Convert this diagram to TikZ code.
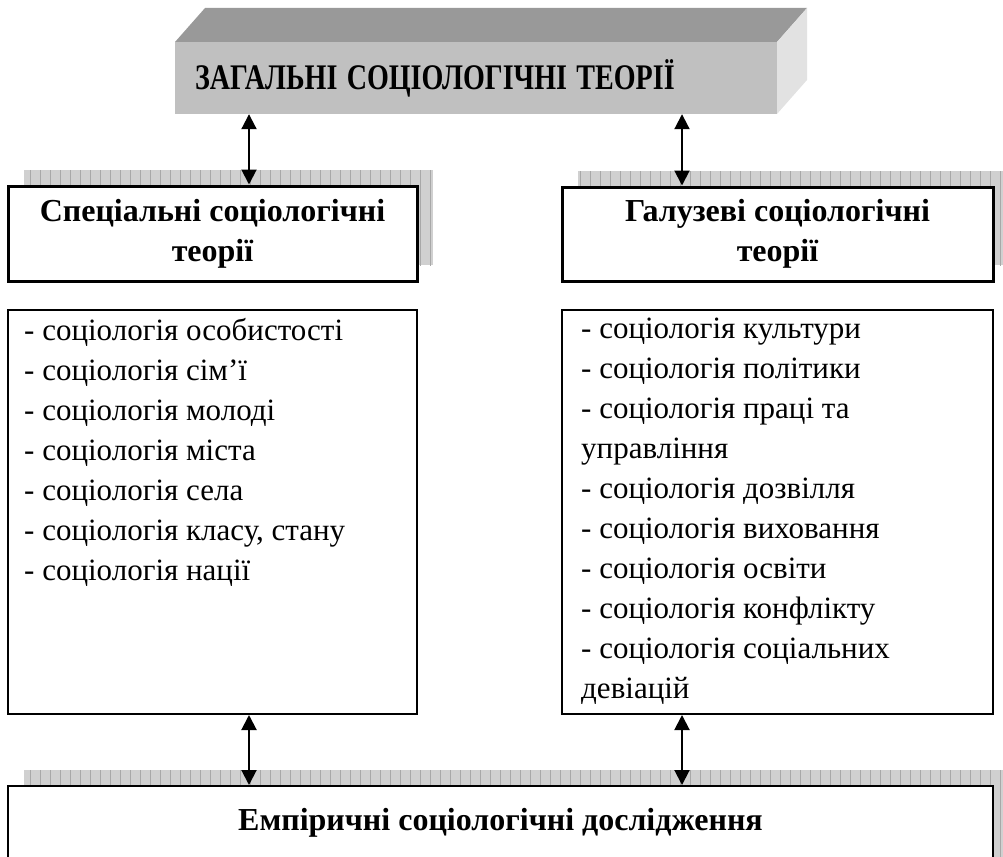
\documentclass[tikz,border=0pt]{standalone}
\usepackage{fontspec}
\setmainfont{Liberation Serif}
\usetikzlibrary{arrows.meta}

\definecolor{topface}{HTML}{999999}
\definecolor{frontface}{HTML}{C0C0C0}
\definecolor{sideface}{HTML}{E2E2E2}
\definecolor{shadowbg}{HTML}{D0D0D0}
\definecolor{shadowline}{HTML}{A8A8A8}

\begin{document}
\begin{tikzpicture}[x=1pt, y=-1pt,
  hdrbox/.style={draw, line width=3pt, fill=white, align=center, inner sep=0pt,
    font=\bfseries\fontsize{32}{40}\selectfont},
  listbox/.style={draw, line width=2pt, fill=white, inner sep=0pt},
  listtext/.style={anchor=north west, inner sep=0pt, align=left,
    font=\fontsize{31}{40}\selectfont},
  biarrow/.style={line width=2pt,
    {Triangle[width=15pt,length=15pt]}-{Triangle[width=15pt,length=15pt]}}]
\clip (0,0) rectangle (1003,856);

% shadows
\foreach \xa/\ya/\xb/\yb in {24/170/433/265, 578/171/1012/265, 24/770/1012/880} {
  \begin{scope}
    \clip (\xa,\ya) rectangle (\xb,\yb);
    \fill[shadowbg] (\xa,\ya) rectangle (\xb,\yb);
    \draw[shadowline, line width=0.5pt, step=10] (0,160) grid (1020,880);
  \end{scope}
}

% top block
\fill[topface] (175,42) -- (205,8) -- (807,8) -- (777,42) -- cycle;
\fill[sideface] (777,42) -- (807,8) -- (807,80) -- (777,114) -- cycle;
\node[fill=frontface, minimum width=602pt, minimum height=72pt, text width=562pt,
  inner xsep=20pt, align=left, font=\bfseries\fontsize{36}{40}\selectfont]
  (gen) at (476,78) {\scalebox{0.78}[1]{ЗАГАЛЬНІ СОЦІОЛОГІЧНІ ТЕОРІЇ}};

% headers
\node[hdrbox, minimum width=409pt, minimum height=95pt] (spec) at (212.5,233.5)
  {Спеціальні соціологічні\\теорії};
\node[hdrbox, minimum width=431pt, minimum height=94pt] (galuz) at (777.5,234)
  {Галузеві соціологічні\\теорії};

% lists
\node[listbox, minimum width=409pt, minimum height=404pt] (speclist) at (212.5,512) {};
\node[listbox, minimum width=431pt, minimum height=404pt] (galuzlist) at (777.5,512) {};

\node[listtext] (specitems) at (24,318) {- соціологія особистості\\
- соціологія сім’ї\\
- соціологія молоді\\
- соціологія міста\\
- соціологія села\\
- соціологія класу, стану\\
- соціологія нації};

\node[listtext] (galuzitems) at (581,318) {- соціологія культури\\
- соціологія політики\\
- соціологія праці та\\
управління\\
- соціологія дозвілля\\
- соціологія виховання\\
- соціологія освіти\\
- соціологія конфлікту\\
- соціологія соціальних\\
девіацій};

% bottom
\node[draw, line width=2pt, fill=white, minimum width=985pt, minimum height=84pt,
  font=\bfseries\fontsize{32}{38}\selectfont] (emp) at (500.5,828)
  {\raisebox{18pt}{Емпіричні соціологічні дослідження}};

% arrows
\coordinate (colL) at (249,0);
\coordinate (colR) at (682,0);
\draw[biarrow] (gen.south -| colL) -- (spec.north -| colL);
\draw[biarrow] (gen.south -| colR) -- (galuz.north -| colR);
\draw[biarrow] (speclist.south -| colL) -- (emp.north -| colL);
\draw[biarrow] (galuzlist.south -| colR) -- (emp.north -| colR);

\end{tikzpicture}
\end{document}
